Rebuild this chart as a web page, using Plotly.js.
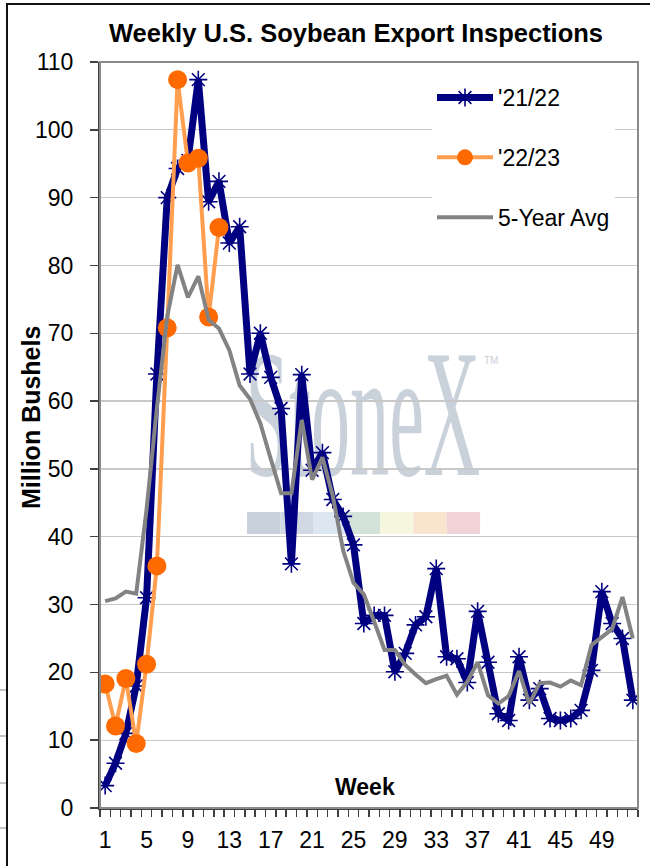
<!DOCTYPE html>
<html>
<head>
<meta charset="utf-8">
<script src="https://cdn.plot.ly/plotly-3.0.1.min.js"></script>
<style>
  html, body { margin:0; padding:0; background:#ffffff; }
  #wrap { position:relative; width:650px; height:866px; overflow:hidden; background:#fff; }
  #frame { position:absolute; left:6px; top:3px; width:700px; height:900px; border-left:2px solid #111; border-top:2px solid #111; }
  .edge { position:absolute; left:0; width:6px; height:2px; background:#c4c4c4; }
  #wm { position:absolute; left:0; top:324px; width:726px; text-align:center; pointer-events:none; }
  #wm span.big { display:inline-block; font-family:"Liberation Serif", "DejaVu Serif", serif; font-size:182px; line-height:180px; color:#c9d1db; transform:scaleX(0.43); transform-origin:50% 50%; }
  #tm { position:absolute; left:484px; top:355px; font-family:"Liberation Sans", Arial, sans-serif; font-size:10px; color:#c8d0da; }
  #chart { position:absolute; left:0; top:0; width:650px; height:866px; }
</style>
</head>
<body>
<div id="wrap">
  <div id="frame"></div>
  <div class="edge" style="top:689px"></div>
  <div class="edge" style="top:735px"></div>
  <div class="edge" style="top:782px"></div>
  <div class="edge" style="top:827px"></div>
  <div id="wm"><span class="big">StoneX</span></div>
  <div id="tm">TM</div>
  <div id="chart"></div>
</div>
<script>
// ---- Data ----
const weeks = [1,2,3,4,5,6,7,8,9,10,11,12,13,14,15,16,17,18,19,20,21,22,23,24,25,26,
               27,28,29,30,31,32,33,34,35,36,37,38,39,40,41,42,43,44,45,46,47,48,49,50,51,52];

const my2122 = [3.3, 6.6, 11.0, 18.0, 31.0, 64.0, 90.0, 94.3, 95.5, 107.4,
                89.4, 92.4, 83.3, 85.7, 64.0, 70.0, 63.5, 58.9, 36.0, 63.9,
                49.8, 52.4, 45.5, 43.0, 38.8, 27.2, 28.4, 28.4, 20.1, 22.8,
                27.0, 28.2, 35.3, 22.3, 22.0, 18.5, 29.0, 21.5, 13.9, 12.9,
                22.3, 15.9, 17.6, 13.2, 12.9, 13.2, 14.4, 20.3, 31.9, 27.2,
                25.0, 15.9];

const my2223 = [18.3, 12.1, 19.1, 9.5, 21.2, 35.7, 70.8, 107.4, 95.1, 95.8, 72.4, 85.6];

const avg5 = [30.5, 30.9, 31.9, 31.6, 44.0, 59.0, 72.5, 80.1, 75.3, 78.4,
              72.0, 70.7, 67.5, 62.3, 60.3, 56.7, 51.5, 46.4, 46.4, 57.2,
              48.4, 51.7, 46.0, 38.0, 33.2, 31.5, 27.5, 23.3, 23.3, 21.1,
              19.7, 18.4, 19.0, 19.5, 16.7, 18.6, 21.5, 16.6, 15.4, 16.5,
              20.2, 15.4, 18.4, 18.5, 17.9, 18.8, 18.1, 24.0, 25.2, 26.4,
              31.1, 25.0];

const xTickVals = [1,5,9,13,17,21,25,29,33,37,41,45,49];
const xTickLabels = ['1','5','9','13','17','21','25','29','33','37','41','45','49'];
const seriesNames = ["'21/22", "'22/23", "5-Year Avg"];

// watermark colour strip (decoration)
const stripColors = ['#c9d1dc','#cfd8e3','#dde7f1','#d3e3d9','#f6f7de','#f9e4cd','#f2d3d7'];

// ---- Traces ----
const FONT = '"Liberation Sans", Arial, sans-serif';
const traces = [
  {
    x: weeks, y: my2122, name: seriesNames[0], type: 'scatter', mode: 'lines+markers',
    legendgroup: 'a',
    line: { color: '#000080', width: 7 },
    marker: { symbol: 'asterisk-open', size: 15, color: '#000080', line: { color: '#000080', width: 1.6 } }
  },
  {
    x: weeks.slice(0, my2223.length), y: my2223, name: seriesNames[1], type: 'scatter', mode: 'lines+markers',
    legendgroup: 'b',
    line: { color: '#FF9E4F', width: 4 },
    marker: { symbol: 'circle', size: 19, color: '#FF6A00' }
  },
  {
    x: weeks, y: avg5, name: seriesNames[2], type: 'scatter', mode: 'lines',
    legendgroup: 'c',
    line: { color: '#838383', width: 4 }
  }
];

const L = 100, R = 12, T = 62, B = 58, W = 650, H = 866;
const pw = W - L - R, ph = H - T - B;
const px2x = p => (p - L) / pw;
const py2y = p => (H - B - p) / ph;

const shapes = [];
const segW = 33.3 / pw;
stripColors.forEach((c, i) => {
  shapes.push({ type: 'rect', xref: 'paper', yref: 'paper', layer: 'below',
    x0: px2x(247) + i * segW, x1: px2x(247) + (i + 1) * segW,
    y0: py2y(534), y1: py2y(512), fillcolor: c, line: { width: 0 } });
});
shapes.push({ type: 'rect', xref: 'paper', yref: 'paper', layer: 'above',
  x0: 0, x1: 1, y0: 0, y1: 1, line: { color: '#8a8a8a', width: 2 }, fillcolor: 'rgba(0,0,0,0)' });

const layout = {
  width: W, height: H,
  margin: { l: L, r: R, t: T, b: B, pad: 0 },
  paper_bgcolor: 'rgba(0,0,0,0)',
  plot_bgcolor: 'rgba(0,0,0,0)',
  font: { family: FONT, color: '#000' },
  title: {
    text: '<b>Weekly U.S. Soybean Export Inspections</b>',
    font: { family: FONT, size: 25.5, color: '#000' },
    x: 356 / W, xanchor: 'center', xref: 'container',
    y: 1 - 33 / H, yanchor: 'middle', yref: 'container'
  },
  xaxis: {
    range: [0.5, 52.5], tickmode: 'array', tickvals: xTickVals, ticktext: xTickLabels,
    ticks: '', showgrid: false, zeroline: false,
    showline: true, linecolor: '#404040', linewidth: 2,
    tickfont: { family: FONT, size: 23, color: '#000' },
    ticklabelstandoff: 10,
    minor: { tickmode: 'linear', tick0: 0.5, dtick: 1, ticks: 'outside', ticklen: 7,
             tickcolor: '#404040', tickwidth: 1.5, showgrid: false }
  },
  yaxis: {
    range: [0, 110], tickmode: 'linear', tick0: 0, dtick: 10,
    ticks: 'outside', ticklen: 8, tickcolor: '#404040', tickwidth: 1.5,
    showgrid: true, gridcolor: '#c8c8c8', gridwidth: 1.3, zeroline: false,
    showline: true, linecolor: '#404040', linewidth: 2,
    tickfont: { family: FONT, size: 23, color: '#000' },
    ticklabelstandoff: 12
  },
  legend: {
    x: px2x(432), xanchor: 'left', y: py2y(76), yanchor: 'top',
    bgcolor: '#ffffff', borderwidth: 0,
    font: { family: FONT, size: 23, color: '#000' },
    itemwidth: 56, traceorder: 'grouped', tracegroupgap: 27
  },
  annotations: [
    { text: '<b>Week</b>', xref: 'paper', yref: 'paper', x: px2x(365), y: py2y(787),
      xanchor: 'center', yanchor: 'middle', showarrow: false,
      font: { family: FONT, size: 23, color: '#000' } },
    { text: '<b>Million Bushels</b>', xref: 'paper', yref: 'paper', x: px2x(31), y: py2y(418),
      xanchor: 'center', yanchor: 'middle', textangle: -90, showarrow: false,
      font: { family: FONT, size: 25, color: '#000' } }
  ],
  shapes: shapes,
  showlegend: true
};

Plotly.newPlot('chart', traces, layout, { displayModeBar: false, staticPlot: true });
</script>
</body>
</html>
